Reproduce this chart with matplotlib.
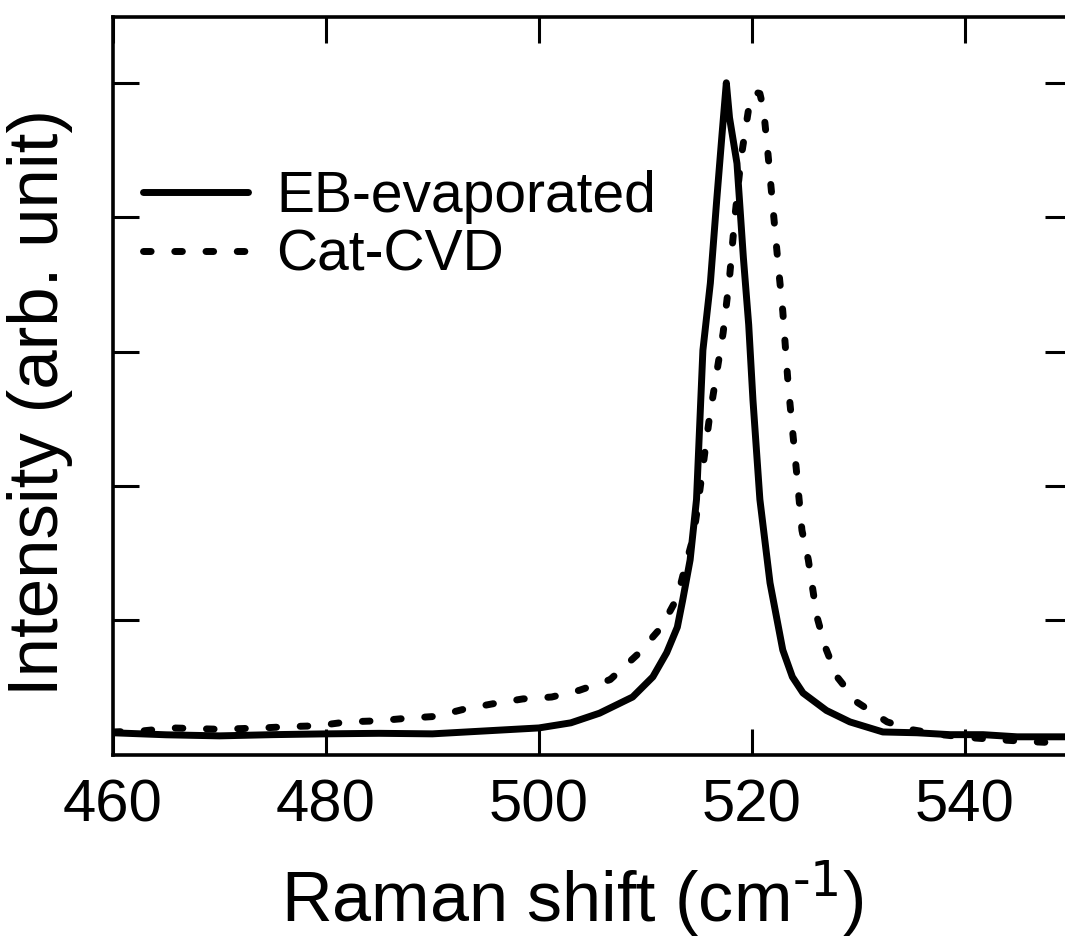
import numpy as np
import matplotlib.pyplot as plt

plt.rcParams['font.family'] = ['Liberation Sans', 'DejaVu Sans']

# EB-evaporated spectrum
eb_shift = [460, 465, 470, 475, 480, 485, 490, 495, 500, 503, 505.7, 508.8,
            510.7, 512.0, 513.0, 513.5, 514.2, 514.8, 515.4, 516.1, 516.7,
            517.2, 517.6, 517.9, 518.6, 519.2, 519.7, 520.1, 520.75, 521.7,
            522.9, 523.8, 524.8, 527.0, 529.2, 532.3, 535.5, 538.6,
            541.7, 544.9, 550]
eb_int = [0.164, 0.149, 0.141, 0.150, 0.156, 0.160, 0.156, 0.178, 0.200, 0.238,
          0.31, 0.43, 0.58, 0.76, 0.95, 1.15, 1.45, 1.90, 3.01, 3.51, 4.13,
          4.62, 5.00, 4.74, 4.40, 3.70, 3.20, 2.64, 1.90, 1.28, 0.78, 0.58,
          0.46, 0.33, 0.245, 0.17, 0.164, 0.150, 0.150, 0.134, 0.134]

# Cat-CVD spectrum
cvd_shift = [460, 462.8, 465.6, 470, 474, 476.6, 479.2, 482, 484.9, 487.6,
             490.3, 493, 495.7, 498.5, 501.2, 503.8, 506.7, 509.3, 511.5,
             513.0, 513.7, 514.5, 514.9, 516.0, 517.3, 517.9, 518.4, 519.0,
             519.8, 520.3, 520.75, 521.1, 521.5, 522.0, 522.5, 522.9, 523.4,
             523.7, 524.2, 524.7, 525.3, 526.1, 526.9, 528.0, 529.9, 532.7,
             535.1, 537.9, 540.8, 543.6, 546.4, 550]
cvd_int = [0.17, 0.178, 0.20, 0.19, 0.20, 0.21, 0.216, 0.245, 0.253, 0.272,
           0.286, 0.34, 0.38, 0.416, 0.43, 0.48, 0.56, 0.75, 0.95, 1.17, 1.39,
           1.62, 1.84, 2.50, 3.14, 3.55, 4.00, 4.45, 4.86, 4.93, 4.92, 4.80,
           4.48, 4.05, 3.62, 3.30, 2.76, 2.51, 2.10, 1.67, 1.45, 1.03, 0.80,
           0.58, 0.39, 0.245, 0.186, 0.149, 0.126, 0.11, 0.097, 0.085]

x_ticks = [460, 480, 500, 520, 540]
y_ticks = [1, 2, 3, 4, 5]

plt.rcParams['mathtext.default'] = 'regular'

fig = plt.figure(figsize=(10.65, 9.4), dpi=100)
ax = fig.add_axes([0.106, 0.197, 0.900, 0.785])

ax.plot(eb_shift, eb_int, color='black', lw=5.0, solid_capstyle='round',
        solid_joinstyle='round', label='EB-evaporated')
ax.plot(cvd_shift, cvd_int, color='black', lw=5.0, linestyle=(0, (1.1, 3.4)),
        dash_capstyle='round', label='Cat-CVD')

ax.set_xlim(460, 550)
ax.set_ylim(0, 5.49)
ax.set_xticks(x_ticks)
ax.set_yticks(y_ticks)
ax.set_yticklabels([])
ax.tick_params(direction='in', top=True, right=True, length=19, width=2.2,
               labelsize=43, pad=17)
for s in ax.spines.values():
    s.set_linewidth(2.6)

ax.set_xlabel('Raman shift (cm$^{\\text{-1}}$)', fontsize=50.5, labelpad=18)
ax.xaxis.label.set_x(0.479)
ax.set_ylabel('Intensity (arb. unit)', fontsize=51, labelpad=12)
ax.yaxis.label.set_y(0.478)

ax.legend(loc='upper left', bbox_to_anchor=(0.031, 0.792), frameon=False,
          fontsize=41, handlelength=1.85, handletextpad=0.5, labelspacing=0.08,
          borderaxespad=0, borderpad=0)

fig.savefig('out.png', dpi=100)
